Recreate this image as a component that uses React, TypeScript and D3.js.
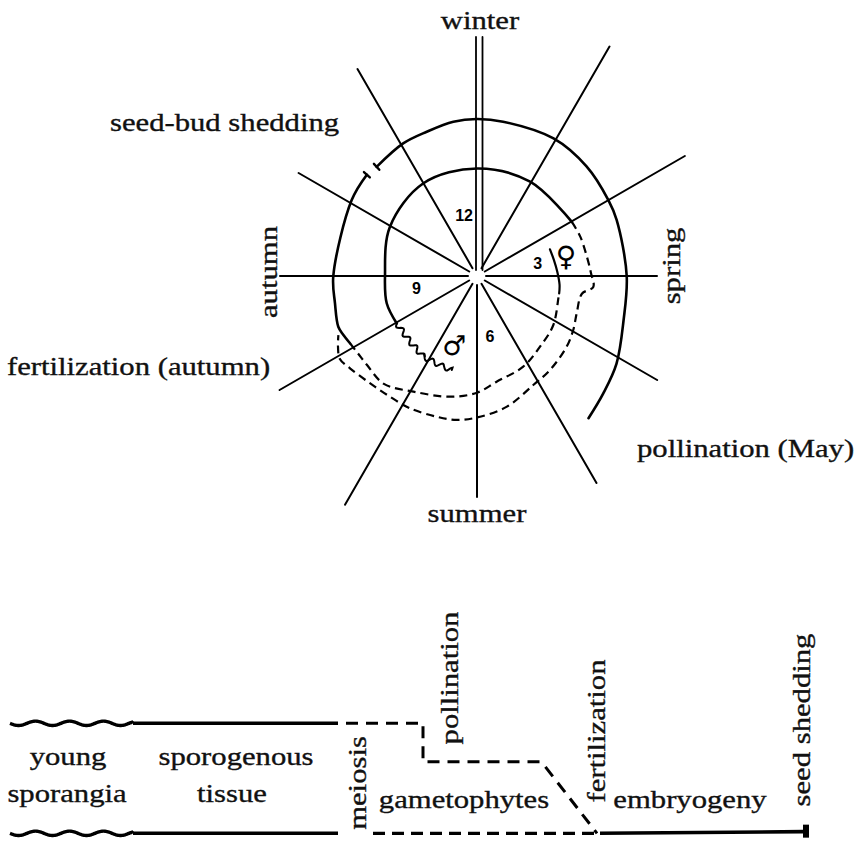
import React from 'react';
import * as d3 from 'd3';

type P = [number, number];

// ---------- circular diagram, points are [month, radius] ----------
const spokeMonths = [0, 1, 2, 3, 4, 5, 6, 7, 8, 9, 10, 11];
const spokeLengths = [239, 265, 240, 180, 208, 239, 221, 264, 228, 197, 206, 239];

const monthNumbers = ['12', '3', '6', '9'];
const monthNumberAt = [0, 3, 6, 9];

const seasons = ['winter', 'spring', 'summer', 'autumn'];
const events = ['seed-bud shedding', 'fertilization (autumn)', 'pollination (May)'];

// outer ring, from the seed-bud shedding break clockwise to May
const outerRingTop: P[] = [
  [10.58, 148.3], [11.03, 151.8], [11.36, 152.8], [11.71, 156.1], [12, 157], [12.32, 156.5],
  [12.97, 157.4], [13.5, 154.9], [14.0, 151.7], [14.27, 150.5], [15.0, 149.7], [15.56, 153.1],
  [16.07, 164.7], [16.43, 172.4], [16.73, 180.7],
];
// outer ring, from the break down the autumn side
const outerRingLeft: P[] = [
  [10.42, 149.6], [10.04, 146.5], [9.0, 143.7], [8.64, 144.6], [8.33, 147.7], [8.21, 146.1], [8.07, 143.7],
];
// continues dashed, spiralling inwards to the female mark
const innerSpiralDash: P[] = [
  [8.07, 143.7], [7.9, 142], [7.7, 141.5], [7.36, 142.5], [6.96, 132], [6.42, 123.7], [6.0, 116.7],
  [5.65, 107.5], [5.1, 101.8], [4.61, 94.7], [4.09, 90.7], [3.48, 84.2], [3.38, 84],
];
const innerSpiralStart: P[] = [
  [3.4, 84], [3.2, 83], [2.9, 80.4], [2.6, 78.5], [2.33, 77.7],
];
// inner ring
const innerRing: P[] = [
  [7.98, 93.2], [8.44, 94.3], [9.0, 92], [9.98, 100], [11.0, 107.1], [12, 107.5], [12.98, 108.2], [14.01, 109.2],
];
// dashed continuation of the inner ring
const outerSpiralDash: P[] = [
  [2.01, 109.2], [2.3, 110.5], [2.67, 111.6], [2.95, 114], [3.18, 116.8], [3.32, 106.4], [3.68, 106.4],
  [3.98, 110.4], [4.28, 114.2], [4.74, 119], [5.09, 122.7], [5.57, 134], [6.0, 141.5], [6.27, 145.4],
  [6.53, 146.4], [6.9, 148.3], [7.19, 148.8], [7.5, 151.5], [7.8, 157], [7.96, 160.3], [8.1, 156], [8.23, 150.7],
];
const fertilizationWave: P[] = [
  [7.98, 93.2], [7.52, 93.8], [7.12, 96.9], [6.68, 96.8], [6.5, 97.3],
];

// ---------- linear life-cycle, points are [time, level] ----------
const stageLabels = ['young', 'sporangia', 'sporogenous', 'tissue', 'gametophytes', 'embryogeny'];
const stagePos = [60, 59, 228, 224, 456, 682];
const stageRow = [0, 1, 0, 1, 2, 2];
const markerLabels = ['meiosis', 'pollination', 'fertilization', 'seed shedding'];

const upperWavy: P[] = [[2, 0], [125, 0]];
const upperSolid: P[] = [[125, 0], [330, 0]];
const upperDashed: P[] = [[338, 0], [415, 0], [415, 0.35], [532, 0.35], [536, 0.38], [589, 1]];
const lowerWavy: P[] = [[2, 1], [125, 1]];
const lowerSolid: P[] = [[125, 1], [330, 1]];
const lowerDashed: P[] = [[365, 1], [588, 1]];
const lowerEnd: P[] = [[592, 1], [795, 0.985]];

const CX = 477;
const CY = 276;
const SX = 1.18; // scanned lettering is wider than Times
const SERIF = "'Liberation Serif', 'DejaVu Serif', serif";

function wavePoints(pts: P[], wavelength: number, amp: number, step = 1): P[] {
  const out: P[] = [];
  let s0 = 0;
  for (let i = 1; i < pts.length; i++) {
    const [x0, y0] = pts[i - 1];
    const [x1, y1] = pts[i];
    const len = Math.hypot(x1 - x0, y1 - y0);
    const ux = (x1 - x0) / len;
    const uy = (y1 - y0) / len;
    for (let t = 0; t < len; t += step) {
      const off = amp * Math.sin((2 * Math.PI * (s0 + t)) / wavelength);
      out.push([x0 + ux * t - uy * off, y0 + uy * t + ux * off]);
    }
    s0 += len;
  }
  out.push(pts[pts.length - 1]);
  return out;
}

const Label: React.FC<{ x: number; y: number; text: string; rotate?: number; anchor?: string }> = ({
  x, y, text, rotate = 0, anchor = 'middle',
}) => (
  <g transform={`translate(${x},${y}) rotate(${rotate}) scale(${SX},1)`}>
    <text textAnchor={anchor} fontFamily={SERIF} fontSize={26} fill="#111" stroke="#111" strokeWidth={0.35}>
      {text}
    </text>
  </g>
);

const App: React.FC = () => {
  const angle = d3.scaleLinear().domain([0, 12]).range([0, 2 * Math.PI]);
  const radius = d3.scaleLinear().domain([0, 250]).range([0, 250]);
  const pxy = (m: number, r: number): P => [
    radius(r) * Math.sin(angle(m)),
    -radius(r) * Math.cos(angle(m)),
  ];

  const radial = d3.lineRadial<P>()
    .angle(d => angle(d[0]))
    .radius(d => radius(d[1]))
    .curve(d3.curveCatmullRom.alpha(0.5));
  const plain = d3.line<P>().curve(d3.curveLinear);

  const tX = d3.scaleLinear().domain([0, 800]).range([8, 808]);
  const tY = d3.scaleLinear().domain([0, 1]).range([723.3, 833.3]);
  const tLine = d3.line<P>().x(d => tX(d[0])).y(d => tY(d[1]));
  const tWave = (pts: P[]) =>
    plain(wavePoints(pts.map(d => [tX(d[0]), tY(d[1])] as P), 34, 2.2))!;

  // radial break marks at seed-bud shedding
  const breakTicks = [outerRingTop[0], outerRingLeft[0]].map(([m, r]) => [pxy(m, r - 4), pxy(m, r + 4)]);

  const waveLine = plain(wavePoints(fertilizationWave.map(d => pxy(d[0], d[1])), 11, 2.6))!;

  const seasonPlace = [
    { x: CX + 3, y: CY - radius(spokeLengths[0]) - 8, rot: 0 },
    { x: CX + radius(spokeLengths[3]) + 23, y: CY - 10, rot: -90 },
    { x: CX, y: CY + radius(spokeLengths[6]) + 25, rot: 0 },
    { x: CX - radius(spokeLengths[9]) - 3, y: CY - 4, rot: -90 },
  ];
  const eventPlace = [
    { x: 110, y: 131 },
    { x: 7, y: 375 },
    { x: 637, y: 457 },
  ];
  const stageRowY = [765, 801.7, 808.3];
  const markerY = [783, 678, 731, 720];
  const markerBase = [366, 458, 605, 810];

  return (
    <svg width={861} height={844} style={{ position: 'absolute', left: 0, top: 0, background: '#fff' }}>
      <g transform={`translate(${CX},${CY})`} stroke="#000" fill="none" strokeLinecap="round">
        {/* month spokes */}
        {spokeMonths.map((m, i) => {
          if (m === 0) {
            return [-1, 5.5].map(off => (
              <line key={`s0${off}`} x1={off} y1={-radius(6)} x2={off} y2={-radius(spokeLengths[0])} strokeWidth={1.8} />
            ));
          }
          const [x1, y1] = pxy(m, 9);
          const [x2, y2] = pxy(m, spokeLengths[i]);
          return <line key={m} x1={x1} y1={y1} x2={x2} y2={y2} strokeWidth={2} />;
        })}

        {/* rings */}
        <path d={radial(outerRingTop)!} strokeWidth={2.6} />
        <path d={radial(outerRingLeft)!} strokeWidth={2.6} />
        <path d={radial(innerRing)!} strokeWidth={2.6} />
        <path d={radial(innerSpiralStart)!} strokeWidth={2.2} />
        <path d={radial(innerSpiralDash)!} strokeWidth={2.2} strokeDasharray="8,5" strokeLinecap="butt" />
        <path d={radial(outerSpiralDash)!} strokeWidth={2.2} strokeDasharray="8,5" strokeLinecap="butt" />
        <path d={waveLine} strokeWidth={2} />
        {breakTicks.map((t, i) => (
          <line key={i} x1={t[0][0]} y1={t[0][1]} x2={t[1][0]} y2={t[1][1]} strokeWidth={2.4} />
        ))}

        {/* month numbers */}
        {monthNumbers.map((s, i) => {
          const [x, y] = pxy(monthNumberAt[i] - 0.4, 62);
          return (
            <text key={s} x={x} y={y} textAnchor="middle" dominantBaseline="central" stroke="none" fill="#000"
              fontFamily="'Liberation Sans', Arial, sans-serif" fontWeight="bold" fontSize={16}>
              {s}
            </text>
          );
        })}
        <text x={pxy(2.6, 91)[0]} y={pxy(2.6, 91)[1] - 1} textAnchor="middle" dominantBaseline="central" stroke="none"
          fill="#000" fontFamily="'DejaVu Sans', sans-serif" fontSize={28} fontWeight="bold">♀</text>
        <text x={pxy(6.6, 73)[0]} y={pxy(6.6, 73)[1]} textAnchor="middle" dominantBaseline="central" stroke="none"
          fill="#000" fontFamily="'DejaVu Sans', sans-serif" fontSize={27} fontWeight="bold">♂</text>
      </g>

      {seasons.map((s, i) => (
        <Label key={s} x={seasonPlace[i].x} y={seasonPlace[i].y} rotate={seasonPlace[i].rot} text={s} />
      ))}
      {events.map((s, i) => (
        <Label key={s} x={eventPlace[i].x} y={eventPlace[i].y} anchor="start" text={s} />
      ))}

      {/* linear life cycle */}
      <g stroke="#000" fill="none">
        <path d={tWave(upperWavy)} strokeWidth={3.4} />
        <path d={tWave(lowerWavy)} strokeWidth={3.4} />
        <path d={tLine(upperSolid)!} strokeWidth={3.4} />
        <path d={tLine(lowerSolid)!} strokeWidth={3.4} />
        <path d={tLine(upperDashed)!} strokeWidth={3} strokeDasharray="12,8" />
        <path d={tLine(lowerDashed)!} strokeWidth={3.2} strokeDasharray="12,7" />
        <path d={tLine(lowerEnd)!} strokeWidth={3.6} />
        <rect x={tX(lowerEnd[1][0])} y={tY(lowerEnd[1][1]) - 7} width={6} height={13} fill="#000" stroke="none" />
      </g>
      {stageLabels.map((s, i) => (
        <Label key={s} x={tX(stagePos[i])} y={stageRowY[stageRow[i]]} text={s} />
      ))}
      {markerLabels.map((s, i) => (
        <Label key={s} x={markerBase[i]} y={markerY[i]} rotate={-90} text={s} />
      ))}
    </svg>
  );
};

export default App;
